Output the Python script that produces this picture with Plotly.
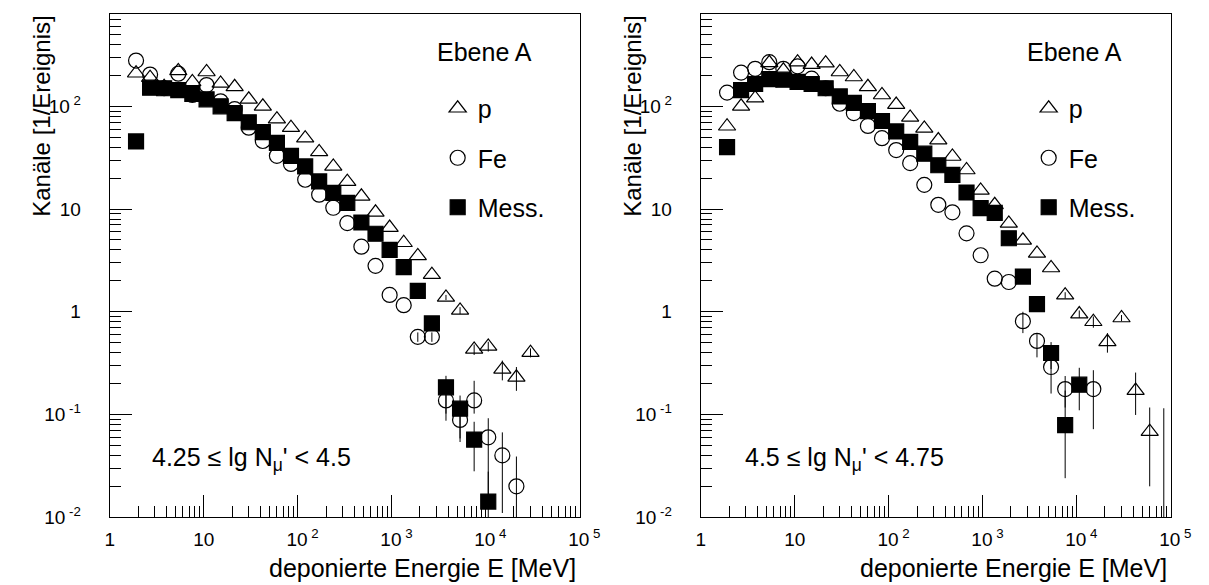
import plotly.graph_objects as go

W, H = 1209, 585
FONT = "Liberation Sans, Arial, Helvetica, sans-serif"

# bin centres of the deposited energy [MeV]
energy = [1.9, 2.68, 3.78, 5.35, 7.55, 10.7, 15.1, 21.3, 30.1, 42.5, 60.0, 84.7,
          120, 169, 239, 337, 476, 673, 951, 1343, 1897, 2679, 3784, 5346,
          7551, 10670, 15070, 21280, 30060, 42460, 59980, 84720]

# ---- left panel: 4.25 <= lg Nmu' < 4.5 ----
p_left = [210, 190, 155, 221, 173, 216, 167, 155, 117, 100, 75, 62, 49, 36, 26,
          18.5, 13.3, 9.3, 6.6, 4.7, 3.5, 2.3, 1.38, 1.03, 0.43, 0.46, 0.275, 0.23, 0.40]
p_left_up = [0]*22 + [0.08, 0.08, 0.05, 0.05, 0.06, 0.06, 0.04]
p_left_dn = [0]*22 + [0.08, 0.08, 0.05, 0.05, 0.06, 0.06, 0.04]

fe_left = [279, 204, 150, 208, 129, 161, 112, 94, 62, 46, 33, 27.5, 19.3, 13.8, 10.3,
           7.3, 4.3, 2.8, 1.46, 1.16, 0.57, 0.57, 0.137, 0.0885, 0.137, 0.060, 0.040, 0.020]
fe_left_up = [0]*20 + [0.06, 0.06, 0.05, 0.03, 0.076, 0.032, 0.027, 0.019]
fe_left_dn = [0]*20 + [0.06, 0.06, 0.05, 0.03, 0.035, 0.048, 0.029, 0.0195]

mess_left = [45.6, 152, 150, 144, 132, 117, 100, 86, 70, 56, 44, 33, 26, 18.6, 14.4,
             11.5, 7.4, 5.75, 4.0, 2.72, 1.6, 0.77, 0.184, 0.114, 0.057, 0.0142]
mess_left_up = [0]*21 + [0.06, 0.054, 0.039, 0.028, 0.0136]
mess_left_dn = [0]*21 + [0.06, 0.082, 0.06, 0.029, 0.0138]

# ---- right panel: 4.5 <= lg Nmu' < 4.75 ----
p_right = [64, 100, 120, 265, 224, 269, 255, 263, 216, 193, 155, 129, 104, 78, 61, 47,
           32.5, 24, 15.2, 11, 7.25, 4.96, 3.7, 2.67, 1.45, 0.95, 0.80, 0.51, 0.87,
           0.171, 0.068, 0.004]
p_right_up = [0]*24 + [0.1, 0.08, 0.1, 0.11, 0.06, 0.085, 0.049, 0.111]
p_right_dn = [0]*24 + [0.1, 0.08, 0.1, 0.11, 0.06, 0.072, 0.048, 0.0]

fe_right = [136, 213, 232, 269, 232, 245, 186, 150, 106, 86, 64.5, 49, 37.5, 28, 17.2,
            11, 9.3, 5.8, 3.55, 2.1, 1.95, 0.81, 0.52, 0.29, 0.177, None, 0.177]
fe_right_up = [0]*21 + [0.19, 0.09, 0.07, 0.06, 0, 0.093]
fe_right_dn = [0]*21 + [0.19, 0.16, 0.13, 0.06, 0, 0.105]

mess_right = [40, 144, 165, 184, 182, 173, 165, 150, 125, 108, 90, 72, 57, 45, 34.6,
              26.7, 21.5, 14.5, 10.2, 9.2, 5.2, 2.2, 1.19, 0.397, 0.079, 0.195]
mess_right_up = [0]*21 + [0.15, 0.1, 0.11, 0.092, 0.09]
mess_right_dn = [0]*21 + [0.15, 0.1, 0.12, 0.055, 0.085]

series_names = ["p", "Fe", "Mess."]
panel_labels = ["4.25 \u2264 lg N<sub>\u03bc</sub>' < 4.5", "4.5 \u2264 lg N<sub>\u03bc</sub>' < 4.75"]
x_tick_vals = [1, 10, 100, 1000, 10000, 100000]
x_tick_text = ["1", "10", "\u200210<sup> 2</sup>", "\u200210<sup> 3</sup>",
               "\u200210<sup> 4</sup>", "\u200210<sup> 5</sup>"]
y_tick_vals = [0.01, 0.1, 1, 10, 100]
y_tick_text = ["10<sup> -2</sup>", "10<sup> -1</sup>", "1", "10", "10<sup> 2</sup>"]

fig = go.Figure()


def add(xa, ya, y, up, dn, symbol, name, legend, group):
    fig.add_trace(go.Scatter(
        x=energy[:len(y)], y=y, mode="markers", name=name,
        xaxis=xa, yaxis=ya, legend=legend, legendgroup=group,
        marker=dict(symbol=symbol, size=15, color="black",
                    line=dict(color="black", width=1.2)),
        error_y=dict(type="data", symmetric=False, array=up, arrayminus=dn,
                     color="black", thickness=1, width=0, visible=True),
        cliponaxis=True,
    ))


add("x", "y", p_left, p_left_up, p_left_dn, "triangle-up-open", series_names[0], "legend", "pL")
add("x", "y", fe_left, fe_left_up, fe_left_dn, "circle-open", series_names[1], "legend", "fL")
add("x", "y", mess_left, mess_left_up, mess_left_dn, "square", series_names[2], "legend", "mL")
add("x2", "y2", p_right, p_right_up, p_right_dn, "triangle-up-open", series_names[0], "legend2", "pR")
add("x2", "y2", fe_right, fe_right_up, fe_right_dn, "circle-open", series_names[1], "legend2", "fR")
add("x2", "y2", mess_right, mess_right_up, mess_right_dn, "square", series_names[2], "legend2", "mR")

minor_x = [m * 10 ** d for d in range(0, 5) for m in range(2, 10)]
minor_y = [m * 10 ** d for d in range(-2, 3) for m in range(2, 10) if m * 10 ** d < 750]

axis_common = dict(type="log", showline=True, linecolor="black", linewidth=1.3,
                   mirror=True, ticks="inside", ticklen=22, tickwidth=1, tickcolor="black",
                   showgrid=False, zeroline=False,
                   tickfont=dict(family=FONT, size=19, color="black"))

xdom_left = [99 / W, 579 / W]
xdom_right = [703 / W, 1183 / W]
ydom = [66 / H, 579 / H]

xa = dict(axis_common, range=[0, 5], tickmode="array", tickvals=x_tick_vals, ticktext=x_tick_text,
          ticklabelstandoff=5,
          minor=dict(tickmode="array", tickvals=minor_x, ticks="inside", ticklen=11,
                     tickwidth=1, tickcolor="black", showgrid=False))
ya = dict(axis_common, range=[-2, 2.9], tickmode="array", tickvals=y_tick_vals, ticktext=y_tick_text,
          ticklabelstandoff=24,
          minor=dict(tickmode="array", tickvals=minor_y, ticks="inside", ticklen=11,
                     tickwidth=1, tickcolor="black", showgrid=False))

legend_common = dict(xanchor="left", yanchor="top", bgcolor="rgba(0,0,0,0)", borderwidth=0,
                     font=dict(family=FONT, size=25, color="black"), tracegroupgap=14,
                     itemsizing="trace", traceorder="grouped")

fig.update_layout(
    width=W, height=H, margin=dict(l=0, r=0, t=0, b=0),
    paper_bgcolor="white", plot_bgcolor="white",
    font=dict(family=FONT, color="black"),
    xaxis=dict(xa, domain=xdom_left, anchor="y"),
    yaxis=dict(ya, domain=ydom, anchor="x"),
    xaxis2=dict(xa, domain=xdom_right, anchor="y2"),
    yaxis2=dict(ya, domain=ydom, anchor="x2"),
    legend=dict(legend_common, x=434 / W, y=1 - 79 / H),
    legend2=dict(legend_common, x=1038 / W, y=1 - 79 / H),
)

annotations = []
for x_left_px, x_right_px, ytitle_px, label in [(431, 577, 29, panel_labels[0]),
                                                 (1034, 1181, 633, panel_labels[1])]:
    annotations.append(dict(text="Ebene A", x=x_left_px / W, y=1 - 45 / H, xref="paper", yref="paper",
                            xanchor="left", yanchor="middle", showarrow=False,
                            font=dict(family=FONT, size=25, color="black")))
    annotations.append(dict(text="deponierte Energie E [MeV]", x=x_right_px / W, y=1 - 571 / H,
                            xref="paper", yref="paper", xanchor="right", yanchor="middle",
                            showarrow=False, font=dict(family=FONT, size=25, color="black")))
    annotations.append(dict(text="Kan\u00e4le [1/Ereignis]", x=ytitle_px / W, y=1 - 6 / H,
                            xref="paper", yref="paper", xanchor="center", yanchor="top",
                            textangle=-90, showarrow=False,
                            font=dict(family=FONT, size=24, color="black")))
annotations.append(dict(text=panel_labels[0], x=140 / W, y=1 - 460 / H, xref="paper", yref="paper",
                        xanchor="left", yanchor="middle", showarrow=False,
                        font=dict(family=FONT, size=25, color="black")))
annotations.append(dict(text=panel_labels[1], x=746 / W, y=1 - 460 / H, xref="paper", yref="paper",
                        xanchor="left", yanchor="middle", showarrow=False,
                        font=dict(family=FONT, size=25, color="black")))
fig.update_layout(annotations=annotations)

fig.write_html("out.html")
